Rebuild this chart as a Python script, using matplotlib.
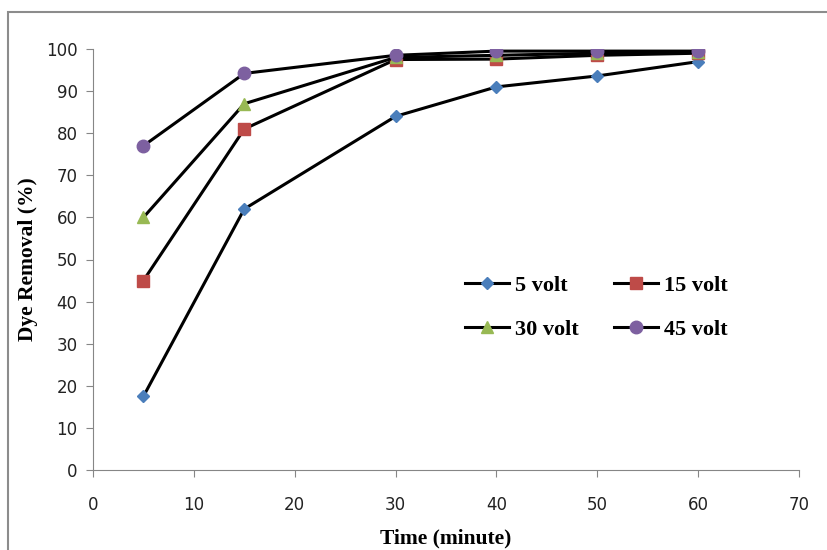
import matplotlib
matplotlib.use("Agg")
import matplotlib.pyplot as plt
from matplotlib.patches import Rectangle

time = [5, 15, 30, 40, 50, 60]
v5 = [17.5, 62, 84, 91, 93.6, 97]
v15 = [45, 81, 97.5, 97.6, 98.5, 99]
v30 = [60, 87, 98, 98.5, 99, 99.2]
v45 = [77, 94.2, 98.5, 99.5, 99.5, 99.5]
labels = ["5 volt", "15 volt", "30 volt", "45 volt"]

fig = plt.figure(figsize=(8.27, 5.5), dpi=100)
fig.patches.append(Rectangle((8/827, -0.1), 1.2, 1.1 - 12/550, transform=fig.transFigure,
                             fill=False, edgecolor="#8c8c8c", linewidth=1.5))
ax = fig.add_axes([93/827, 1 - 470/550, (799 - 93)/827, (470 - 49)/550])

series = [v5, v15, v30, v45]
markers = ["D", "s", "^", "o"]
colors = ["#4a7ebb", "#be4b48", "#98b954", "#7d60a0"]
sizes = [6, 8, 8, 9]
lines = []
for ys, m, c, s, lab in zip(series, markers, colors, sizes, labels):
    ln, = ax.plot(time, ys, color="black", linewidth=2.2, marker=m, markersize=s,
                  markerfacecolor=c, markeredgecolor=c, label=lab)
    lines.append(ln)

ax.set_xlim(0, 70)
ax.set_ylim(0, 100)
ax.set_xticks(range(0, 71, 10))
ax.set_yticks(range(0, 101, 10))
for sp in ["top", "right"]:
    ax.spines[sp].set_visible(False)
for sp in ["left", "bottom"]:
    ax.spines[sp].set_color("#868686")
ax.tick_params(direction="out", length=5, color="#868686", labelsize=12,
               labelcolor="#222222", pad=6)
ax.tick_params(axis="x", pad=14)

ax.set_xlabel("Time (minute)", fontfamily="Liberation Serif", fontweight="bold", fontsize=15.5, labelpad=10)
ax.set_ylabel("Dye Removal (%)", fontfamily="Liberation Serif", fontweight="bold", fontsize=15.5, labelpad=6)

# row-major order like the original: 5, 15 / 30, 45
order = [0, 2, 1, 3]
ax.legend([lines[i] for i in order], [labels[i] for i in order], ncol=2, frameon=False,
          loc="upper left", bbox_to_anchor=(0.498, 0.51),
          prop={"family": "Liberation Serif", "weight": "bold", "size": 16},
          columnspacing=1.6, handlelength=2.0, labelspacing=1.05, handletextpad=0.25)

fig.savefig("out.png", dpi=100)
